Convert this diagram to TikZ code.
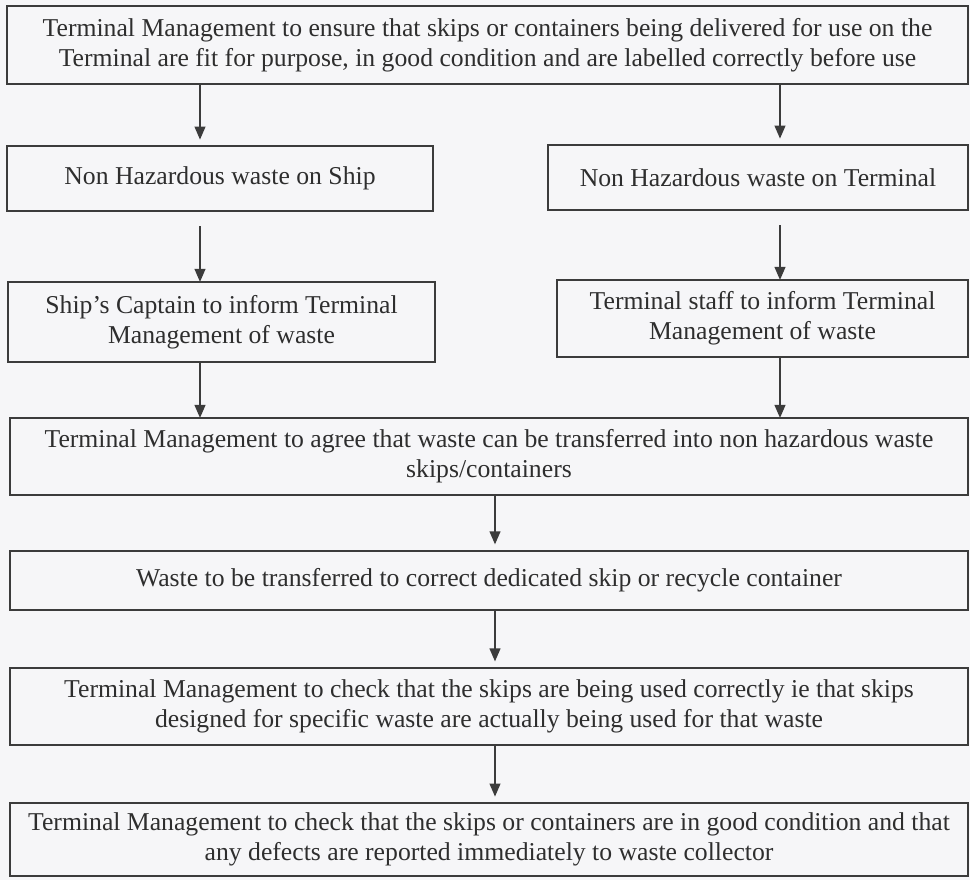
\documentclass[tikz,border=0pt]{standalone}
\usepackage{fontspec}
\setmainfont{Liberation Serif}
\usepackage{xcolor}
\usepackage{tikz}
\usetikzlibrary{arrows.meta}
\definecolor{paper}{HTML}{F6F6F8}
\definecolor{ink}{HTML}{2E2E2E}
\definecolor{rule}{HTML}{3C3C3C}
\tikzset{
  stepbox/.style={draw=rule, line width=0.7pt, fill=paper, inner sep=0pt, outer sep=0pt,
    align=center, text=ink, font=\fontsize{11.85}{13.8}\selectfont},
  flow/.style={draw=rule, line width=0.7pt, -{Triangle[width=5pt,length=6pt]}}
}
\begin{document}
\begin{tikzpicture}[x=0.0162cm, y=-0.0162cm]
  \fill[paper] (0,0) rectangle (970,880);
  \useasboundingbox (0,0) rectangle (970,880);

  % arrow columns
  \coordinate (colL) at (200,0);
  \coordinate (colR) at (780,0);
  \coordinate (colM) at (495,0);

  \node[stepbox, minimum width=15.57cm, minimum height=1.26cm] (check) at (487.5,45)
    {Terminal Management to ensure that skips or containers being delivered for use on the\\
     Terminal are fit for purpose, in good condition and are labelled correctly before use};

  % the two sources of waste
  \node[stepbox, minimum width=6.90cm, minimum height=1.05cm] (ship) at (220,178.5)
    {Non Hazardous waste on Ship};
  \node[stepbox, minimum width=6.80cm, minimum height=1.05cm] (term) at (758,177.5)
    {Non Hazardous waste on Terminal};

  \node[stepbox, minimum width=6.92cm, minimum height=1.30cm] (captain) at (221.5,322)
    {Ship's Captain to inform Terminal\\ Management of waste};
  \node[stepbox, minimum width=6.66cm, minimum height=1.25cm] (staff) at (762.5,318.5)
    {Terminal staff to inform Terminal\\ Management of waste};

  % common path
  \node[stepbox, minimum width=15.52cm, minimum height=1.25cm] (agree) at (489,456.5)
    {Terminal Management to agree that waste can be transferred into non hazardous waste\\
     skips/containers};
  \node[stepbox, minimum width=15.52cm, minimum height=0.96cm] (transfer) at (489,580.5)
    {Waste to be transferred to correct dedicated skip or recycle container};
  \node[stepbox, minimum width=15.52cm, minimum height=1.25cm] (usage) at (489,706.5)
    {Terminal Management to check that the skips are being used correctly ie that skips\\
     designed for specific waste are actually being used for that waste};
  \node[stepbox, minimum width=15.52cm, minimum height=1.18cm] (state) at (489,839.5)
    {Terminal Management to check that the skips or containers are in good condition and that\\
     any defects are reported immediately to waste collector};

  \draw[flow, shorten >=3pt] (check.south -| colL) -- (ship.north -| colL);
  \draw[flow, shorten >=3pt] (check.south -| colR) -- (term.north -| colR);
  \draw[flow, shorten <=7pt] (ship.south -| colL) -- (captain.north -| colL);
  \draw[flow, shorten <=7pt] (term.south -| colR) -- (staff.north -| colR);
  \draw[flow] (captain.south -| colL) -- (agree.north -| colL);
  \draw[flow] (staff.south -| colR) -- (agree.north -| colR);
  \draw[flow, shorten >=3pt] (agree.south -| colM) -- (transfer.north -| colM);
  \draw[flow, shorten >=3pt] (transfer.south -| colM) -- (usage.north -| colM);
  \draw[flow, shorten >=3pt] (usage.south -| colM) -- (state.north -| colM);
\end{tikzpicture}
\end{document}
